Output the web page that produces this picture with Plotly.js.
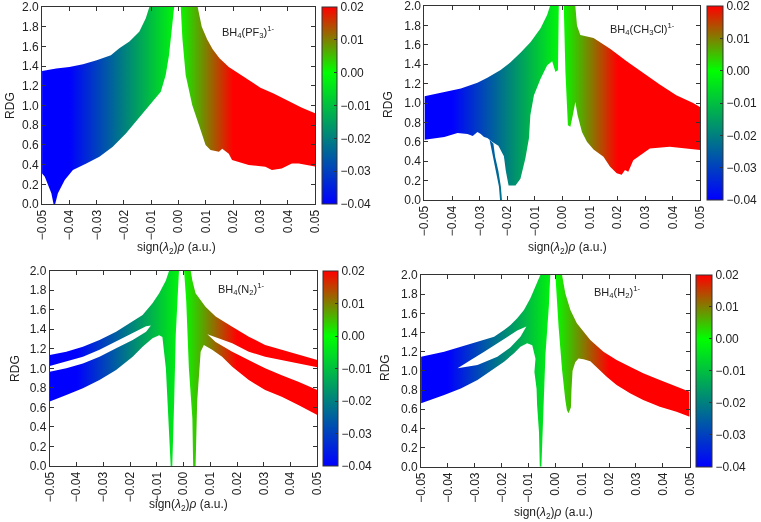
<!DOCTYPE html>
<html><head><meta charset="utf-8">
<script src="https://cdn.plot.ly/plotly-3.0.1.min.js"></script>
<style>html,body{margin:0;padding:0;background:#fff}#chart{width:761px;height:522px;will-change:transform}</style>
</head><body><div id="chart"></div><script>
// RDG vs sign(lambda2)*rho scatter clouds, outlined as polygons (a.u.)
const xTicks = [-0.05,-0.04,-0.03,-0.02,-0.01,0.00,0.01,0.02,0.03,0.04,0.05];
const yTicks = [0.0,0.2,0.4,0.6,0.8,1.0,1.2,1.4,1.6,1.8,2.0];
const cbTicks = [-0.04,-0.03,-0.02,-0.01,0.00,0.01,0.02];
const systemNames = ['BH<sub>4</sub>(PF<sub>3</sub>)<sup>1-</sup>','BH<sub>4</sub>(CH<sub>3</sub>Cl)<sup>1-</sup>','BH<sub>4</sub>(N<sub>2</sub>)<sup>1-</sup>','BH<sub>4</sub>(H<sub>2</sub>)<sup>1-</sup>'];

// BH4(PF3)1-
const pf3NegX = [-0.05,-0.0448,-0.04,-0.035,-0.03,-0.0248,-0.0217,-0.018,-0.0144,-0.012,-0.0107,-0.0016,-0.0023,-0.0035,-0.0047,-0.0065,-0.0095,-0.0125,-0.0144,-0.0193,-0.0241,-0.029,-0.0338,-0.0387,-0.0417,-0.0442,-0.0452,-0.0458,-0.0466,-0.0478,-0.049,-0.05];
const pf3NegY = [1.35,1.375,1.39,1.42,1.46,1.51,1.58,1.65,1.75,1.885,2.0,2.0,1.82,1.51,1.31,1.14,1.04,0.94,0.885,0.716,0.581,0.48,0.412,0.345,0.243,0.108,0.0,0.0,0.108,0.19,0.277,0.31];
const pf3PosX = [0.0008,0.007,0.0085,0.0105,0.0125,0.015,0.0184,0.0245,0.03,0.035,0.04,0.045,0.05,0.05,0.044,0.0415,0.0378,0.0342,0.0318,0.0257,0.0196,0.0184,0.016,0.0148,0.0117,0.0099,0.0075,0.005,0.0026,0.0014];
const pf3PosY = [2.0,2.0,1.80,1.67,1.57,1.48,1.39,1.28,1.18,1.12,1.05,0.98,0.92,0.38,0.41,0.41,0.36,0.345,0.378,0.395,0.446,0.51,0.56,0.53,0.548,0.60,0.80,1.005,1.31,1.68];

// BH4(CH3Cl)1-
const ch3clNegX = [-0.05,-0.0428,-0.0368,-0.0308,-0.0272,-0.0224,-0.0188,-0.0151,-0.0115,-0.0079,-0.0055,-0.0045,-0.0013,-0.0016,-0.0025,-0.0037,-0.0055,-0.0079,-0.0103,-0.0116,-0.0121,-0.0134,-0.0152,-0.017,-0.0195,-0.0205,-0.0212,-0.0232,-0.0255,-0.0272,-0.0284,-0.0296,-0.0308,-0.0325,-0.0344,-0.038,-0.0428,-0.05];
const ch3clNegY = [1.07,1.11,1.15,1.21,1.26,1.34,1.42,1.52,1.63,1.77,1.91,2.0,2.0,1.34,1.32,1.43,1.39,1.25,1.08,0.876,0.64,0.43,0.22,0.15,0.15,0.30,0.45,0.56,0.60,0.64,0.65,0.68,0.70,0.66,0.68,0.69,0.65,0.62];
const ch3clTailX = [-0.0264,-0.0252,-0.0240,-0.0230,-0.0226,-0.0219,-0.0223,-0.0232,-0.0244,-0.0250];
const ch3clTailY = [0.62,0.45,0.30,0.14,0.0,0.0,0.14,0.30,0.45,0.58];
const ch3clPosX = [0.0005,0.0047,0.0053,0.0065,0.0113,0.0173,0.0233,0.0293,0.0353,0.0413,0.0474,0.05,0.05,0.0389,0.0317,0.0257,0.0239,0.0227,0.0215,0.0197,0.0173,0.0149,0.0113,0.0089,0.0071,0.0055,0.0047,0.0038,0.0029,0.002,0.0017,0.0011];
const ch3clPosY = [2.0,2.0,1.80,1.70,1.67,1.56,1.43,1.31,1.19,1.08,1.0,0.955,0.515,0.55,0.53,0.41,0.29,0.31,0.26,0.275,0.344,0.447,0.52,0.60,0.70,0.876,1.01,0.876,0.755,0.77,0.98,1.32];

// BH4(N2)1-
const n2NegX = [-0.05,-0.0438,-0.0376,-0.0314,-0.0252,-0.019,-0.0153,-0.0116,-0.0091,-0.0066,-0.0054,-0.0017,-0.0019,-0.0029,-0.0035,-0.0042,-0.0048,-0.0056,-0.0066,-0.0079,-0.0091,-0.0116,-0.0153,-0.019,-0.0252,-0.0314,-0.0376,-0.0438,-0.05,-0.05,-0.0438,-0.0376,-0.0314,-0.0252,-0.019,-0.014,-0.0122,-0.014,-0.019,-0.0252,-0.0314,-0.0376,-0.0438,-0.05];
const n2NegY = [1.137,1.17,1.22,1.29,1.375,1.478,1.546,1.666,1.768,1.90,2.0,2.0,1.86,1.345,0.66,0.0,0.0,0.49,1.0,1.32,1.34,1.307,1.22,1.12,0.983,0.88,0.795,0.727,0.66,0.966,1.0,1.05,1.12,1.205,1.29,1.375,1.44,1.43,1.36,1.27,1.19,1.12,1.068,1.024];
const n2PosX = [0.0036,0.0033,0.002,0.001,0.0002,0.0027,0.0033,0.0045,0.0082,0.012,0.0182,0.0244,0.0305,0.0367,0.0429,0.05,0.05,0.0429,0.0367,0.0305,0.0244,0.0182,0.0089,0.012,0.0182,0.0244,0.0305,0.0367,0.0429,0.05,0.05,0.0429,0.0367,0.0305,0.0244,0.0182,0.0144,0.0107,0.0076,0.0064,0.0051,0.0045];
const n2PosY = [0.0,0.49,1.0,1.69,2.0,2.0,1.90,1.77,1.63,1.53,1.427,1.324,1.24,1.19,1.137,1.085,1.01,1.05,1.085,1.12,1.17,1.256,1.35,1.27,1.17,1.085,1.0,0.93,0.863,0.778,0.522,0.625,0.71,0.778,0.88,1.017,1.12,1.19,1.24,1.17,0.66,0.0];

// BH4(H2)1-
const h2NegX = [-0.05,-0.0414,-0.0352,-0.029,-0.0228,-0.0191,-0.0167,-0.0142,-0.0117,-0.0093,-0.0068,-0.0056,-0.0019,-0.0024,-0.0037,-0.0046,-0.0052,-0.0058,-0.0061,-0.0068,-0.0070,-0.0078,-0.0074,-0.0086,-0.0105,-0.013,-0.0154,-0.0191,-0.0228,-0.029,-0.0352,-0.0414,-0.05];
const h2NegY = [1.148,1.2,1.252,1.304,1.357,1.426,1.478,1.548,1.635,1.757,1.913,2.0,2.0,1.685,1.163,0.571,0.0,0.0,0.362,0.641,0.814,0.989,1.127,1.267,1.287,1.252,1.183,1.096,1.026,0.904,0.817,0.748,0.661];
const h2GapX = [-0.0364,-0.029,-0.0216,-0.0167,-0.013,-0.0108,-0.0142,-0.0167,-0.0216,-0.0265,-0.0315];
const h2GapY = [1.026,1.061,1.148,1.245,1.357,1.462,1.42,1.374,1.287,1.2,1.113];
const h2PosX = [0.0,0.0025,0.0037,0.0056,0.008,0.013,0.0179,0.0228,0.0278,0.0327,0.0389,0.0451,0.05,0.05,0.0451,0.0389,0.0327,0.0278,0.0228,0.0191,0.0154,0.013,0.0105,0.0086,0.0074,0.0064,0.0060,0.0058,0.0049,0.0043,0.0037,0.0025,0.0012];
const h2PosY = [2.0,2.0,1.81,1.635,1.496,1.322,1.2,1.113,1.043,0.974,0.904,0.835,0.783,0.522,0.574,0.626,0.696,0.765,0.852,0.939,1.043,1.10,1.12,1.13,1.09,1.0,0.80,0.62,0.557,0.59,0.696,1.01,1.46];

// colour palette: blue at -0.04, green at 0.00, red at 0.02
const cmin = -0.04, cmax = 0.02;
const rdgScale = [[0,'rgb(0,0,255)'],[(0-cmin)/(cmax-cmin),'rgb(0,255,0)'],[1,'rgb(255,0,0)']];
const EPS = 1e-7;   // keeps the end ticks from being dropped by rounding

const W = 761, H = 522;
const fx = p => p / W;
const fy = p => 1 - p / H;
const FONT = '"Liberation Sans", Arial, Helvetica, sans-serif';

// panel geometry in page pixels
const panels = [
  {plot:[42.3,316.7,7,204],   cb:[324,15,7,204],     label:[220.7,31.7], xt:[177.5,248], yt:[10,105],
   clouds:[[pf3NegX,pf3NegY],[pf3PosX,pf3PosY]]},
  {plot:[426.7,704,6,200],    cb:[711,16,6,200],     label:[611.7,29.3], xt:[570,248],   yt:[390,104],
   clouds:[[ch3clNegX,ch3clNegY],[ch3clTailX,ch3clTailY],[ch3clPosX,ch3clPosY]]},
  {plot:[50,319,270.7,466],   cb:[325,15,270.7,466], label:[216.7,289.3],xt:[189,505],   yt:[15,368],
   clouds:[[n2NegX,n2NegY],[n2PosX,n2PosY]]},
  {plot:[423.3,693.3,275,466.7], cb:[699.3,15.7,275,466.7], label:[595,291.7], xt:[556.7,513], yt:[387,367],
   clouds:[[h2NegX.concat([null],h2GapX), h2NegY.concat([null],h2GapY)],[h2PosX,h2PosY]]}
];

const traces = [];
const layout = {
  width: W, height: H, margin:{l:0,r:0,t:0,b:0},
  paper_bgcolor:'#fff', plot_bgcolor:'#fff', showlegend:false, hovermode:false,
  font:{family:FONT, size:12, color:'#222'}, annotations:[]
};

panels.forEach((p, i) => {
  const n = i === 0 ? '' : String(i + 1);
  const xa = 'x' + n, ya = 'y' + n;
  const axisCommon = {showline:true, mirror:'ticks', linecolor:'#333', linewidth:1,
    ticks:'inside', ticklen:4, tickcolor:'#333', showgrid:false, zeroline:false,
    ticklabeloverflow:'allow',
    tickfont:{family:FONT, size:12, color:'#222'}, fixedrange:true};
  layout['xaxis' + n] = Object.assign({}, axisCommon, {
    domain:[fx(p.plot[0]), fx(p.plot[1])], anchor:ya, range:[-0.05-EPS,0.05+EPS],
    tickmode:'array', tickvals:xTicks, tickformat:'.2f', tickangle:-90});
  layout['yaxis' + n] = Object.assign({}, axisCommon, {
    domain:[fy(p.plot[3]), fy(p.plot[2])], anchor:xa, range:[0-EPS,2+EPS],
    tickmode:'array', tickvals:yTicks, tickformat:'.1f'});

  p.clouds.forEach(c => traces.push({
    type:'scatter', mode:'lines', x:c[0], y:c[1], xaxis:xa, yaxis:ya,
    fill:'toself', line:{width:0}, connectgaps:false,
    fillgradient:{type:'horizontal', colorscale:rdgScale, start:cmin, stop:cmax},
    hoverinfo:'skip', showlegend:false
  }));

  // colour bar
  traces.push({
    type:'scatter', mode:'markers', x:[null], y:[null], xaxis:xa, yaxis:ya,
    hoverinfo:'skip', showlegend:false,
    marker:{color:[cmin], cmin:cmin-EPS, cmax:cmax+EPS, colorscale:rdgScale, showscale:true,
      colorbar:{x:fx(p.cb[0]), xanchor:'left', xref:'paper', y:fy(p.cb[3]), yanchor:'bottom', yref:'paper',
        len:(p.cb[3]-p.cb[2])/H, lenmode:'fraction', thickness:p.cb[1], thicknessmode:'pixels',
        xpad:0, ypad:0, outlinewidth:1, outlinecolor:'#333', ticklabeloverflow:'allow',
        tickmode:'array', tickvals:cbTicks, tickformat:'.2f', ticks:'inside', ticklen:3, tickcolor:'#333',
        tickfont:{family:FONT, size:12, color:'#222'}}}
  });

  layout.annotations.push(
    {xref:'paper', yref:'paper', x:fx(p.label[0]), y:fy(p.label[1]), xanchor:'left', yanchor:'middle',
     text:systemNames[i], showarrow:false, font:{family:FONT, size:11, color:'#222'}},
    {xref:'paper', yref:'paper', x:fx(p.xt[0]), y:fy(p.xt[1]), xanchor:'center', yanchor:'middle',
     text:'sign(<i>λ</i><sub>2</sub>)<i>ρ</i> (a.u.)', showarrow:false, font:{family:FONT, size:12, color:'#222'}},
    {xref:'paper', yref:'paper', x:fx(p.yt[0]), y:fy(p.yt[1]), xanchor:'center', yanchor:'middle',
     text:'RDG', textangle:-90, showarrow:false, font:{family:FONT, size:12, color:'#222'}}
  );
});

Plotly.newPlot('chart', traces, layout, {displayModeBar:false, staticPlot:true});
</script></body></html>
